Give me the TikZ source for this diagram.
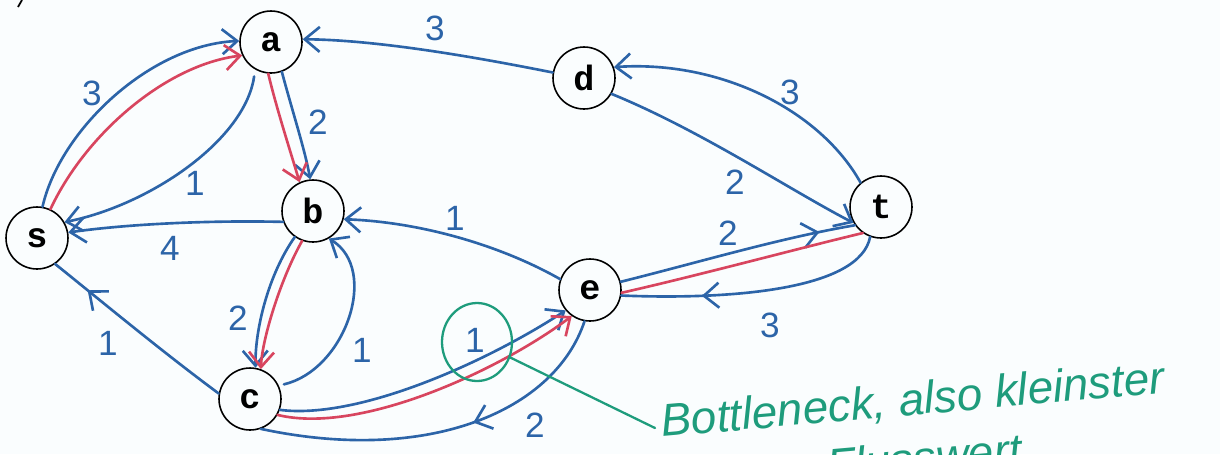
\documentclass[tikz,border=0pt]{standalone}
\usepackage{fontspec}
\setmainfont{Liberation Sans}
\newfontfamily\nodefont{Liberation Mono}
\usetikzlibrary{arrows.meta,decorations.markings,shapes.geometric}

\definecolor{pen}{HTML}{2C64A8}
\definecolor{augpath}{HTML}{D8455F}
\definecolor{note}{HTML}{1E9C7C}
\definecolor{paper}{HTML}{FAFDFE}

\begin{document}
\begin{tikzpicture}[x=0.02cm,y=-0.02cm,
  barb/.tip={Straight Barb[length=3mm,width=5mm]},
  vertex/.style={circle,draw=black,fill=paper,line width=0.9pt,minimum size=1.24cm,inner sep=0pt,
    font=\nodefont\bfseries\fontsize{20}{22}\selectfont},
  res/.style={color=pen,line width=1.5pt,line cap=round,-barb},
  resplain/.style={color=pen,line width=1.5pt,line cap=round},
  aug/.style={color=augpath,line width=1.5pt,line cap=round,-barb},
  midtip/.style={postaction={decorate},decoration={markings,
    mark=at position #1 with {\arrow{barb}}}},
  wlabel/.style={text=pen,font=\fontsize{20}{22}\selectfont,inner sep=1pt},
  notetext/.style={text=note,font=\itshape\fontsize{26}{30}\selectfont,inner sep=0pt}
]
\fill[paper] (0,0) rectangle (1220,454);
\useasboundingbox (0,0) rectangle (1220,454);
\clip (0,0) rectangle (1220,454);

% small mark in the corner
\draw[black,line width=1pt] (18,7) -- (22,0);

% vertices
\node[vertex] (s) at (37,238) {s};
\node[vertex] (a) at (271,42) {a};
\node[vertex] (b) at (313,211) {b};
\node[vertex] (c) at (250,399) {c};
\node[vertex] (d) at (584,78) {d};
\node[vertex] (e) at (590,290) {e};
\node[vertex] (t) at (881,207) {t};

% residual edges (blue)
\draw[res] (s.80) .. controls (60,130) and (150,45) .. (a.178);
\draw[res,shorten <=4pt] (a.240) .. controls (245,140) and (150,205) .. (s.30);
\draw[res] (a.290) .. controls (292,110) and (305,150) .. (b.95);
\draw[res] (b.200) .. controls (200,220) and (120,225) .. (s.10);
\draw[res] (b.235) .. controls (268,275) and (255,330) .. (c.80);
\draw[res,shorten <=3pt] (c.25) .. controls (345,370) and (380,270) .. (b.300);
\draw[resplain,midtip=0.8] (c.170) .. controls (160,350) and (100,300) .. (s.305);
\draw[res] (c.340) .. controls (360,420) and (490,360) .. (e.220);
\draw[resplain,midtip=0.42] (e.260) .. controls (555,410) and (430,465) .. (c.290);
\draw[res] (e.160) .. controls (500,245) and (420,222) .. (b.345);
\draw[resplain,midtip=0.85] (e.15) .. controls (700,262) and (780,238) .. (t.215);
\draw[resplain,midtip=0.7] (t.250) .. controls (860,290) and (730,300) .. (e.350);
\draw[res] (d.330) .. controls (700,130) and (790,190) .. (t.210);
\draw[res] (t.130) .. controls (820,110) and (720,60) .. (d.20);
\draw[res] (d.170) .. controls (480,58) and (380,40) .. (a.5);

% augmenting path (red)
\draw[aug] (s.65) .. controls (85,135) and (165,65) .. (a.205);
\draw[aug] (a.265) .. controls (277,110) and (290,150) .. (b.115);
\draw[aug] (b.250) .. controls (280,280) and (262,340) .. (c.70);
\draw[aug] (c.330) .. controls (360,435) and (500,370) .. (e.235);
\draw[color=augpath,line width=1.5pt,line cap=round] (e.355) .. controls (700,275) and (800,248) .. (t.235);

% capacities
\node[wlabel] (lsa) at (92,93) {3};
\node[wlabel] (las) at (195,183) {1};
\node[wlabel] (lab) at (318,122) {2};
\node[wlabel] (lbs) at (170,248) {4};
\node[wlabel] (lbc) at (238,318) {2};
\node[wlabel] (lcb) at (362,350) {1};
\node[wlabel] (lcs) at (108,343) {1};
\node[wlabel] (lce) at (475,340) {1};
\node[wlabel] (lec) at (535,425) {2};
\node[wlabel] (leb) at (455,218) {1};
\node[wlabel] (let) at (728,233) {2};
\node[wlabel] (lte) at (770,325) {3};
\node[wlabel] (ldt) at (735,182) {2};
\node[wlabel] (ltd) at (790,92) {3};
\node[wlabel] (lda) at (435,28) {3};

% bottleneck note (green)
\node[ellipse,draw=note,line width=1.3pt,minimum width=1.4cm,minimum height=1.56cm] (ring) at (477,342) {};
\node[notetext,anchor=base west,rotate=5] (note1) at (662,437) {Bottleneck, also kleinster};
\node[notetext,anchor=base west,rotate=5] (note2) at (828,482) {Flusswert};
\coordinate (tail) at (655,428);
\draw[note,line width=1.3pt,line cap=round] (ring.335) -- (tail);
\end{tikzpicture}
\end{document}
